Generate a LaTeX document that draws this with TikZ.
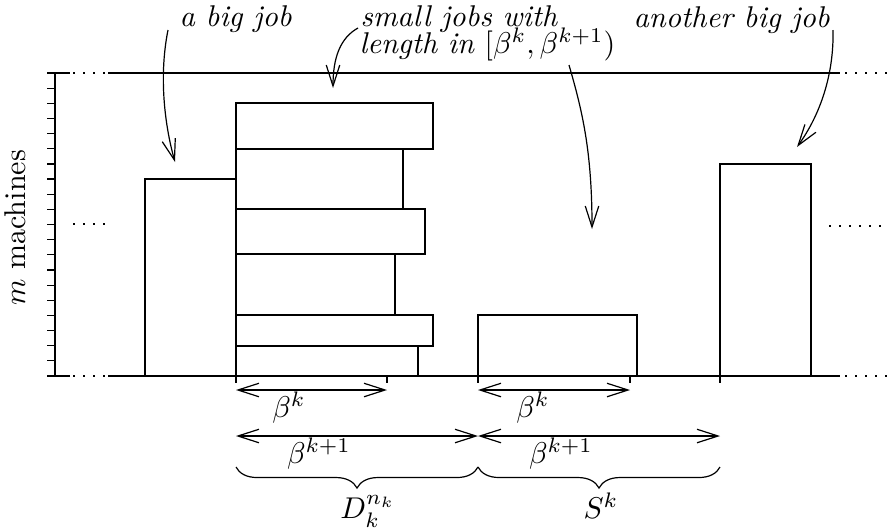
\documentclass[tikz,border=0pt]{standalone}
\usetikzlibrary{arrows.meta,decorations.pathreplacing}
\begin{document}
\begin{tikzpicture}[x=0.333pt,y=-0.333pt,
  >={Straight Barb[length=7pt,width=4.5pt]},
  dotseg/.style={dash pattern=on 0.5pt off 2.83pt},
  lbl/.style={inner sep=0pt,font=\itshape},
  mlbl/.style={inner sep=0pt,anchor=base},
  bracemark/.style={decorate,decoration={brace,mirror,amplitude=7pt}}]
\useasboundingbox (0,0) rectangle (888,531);

% horizontal lines
\draw (47,73) -- (70,73);
\draw[dotseg] (73,73) -- (106,73);
\draw (108,73) -- (840,73);
\draw[dotseg] (845,73) -- (888,73);
\draw (47,376) -- (70,376);
\draw[dotseg] (73,376) -- (106,376);
\draw (108,376) -- (840,376);
\draw[dotseg] (845,376) -- (888,376);
\draw[dotseg] (73,224) -- (106,224);
\draw[dotseg] (829,226) -- (882,226);

% axis with ticks
\draw (55,73) -- (55,376);
\foreach \i in {0,...,20} \draw (47,{73+15.15*\i}) -- (55,{73+15.15*\i});

% jobs
\draw (145,179) rectangle (236,376);
\draw (236,103) rectangle (433,149);
\draw (236,149) rectangle (403,209);
\draw (236,209) rectangle (425,254);
\draw (236,254) rectangle (395,315);
\draw (236,315) rectangle (433,346);
\draw (236,346) rectangle (418,376);
\draw (478,315) rectangle (637,376);
\draw (720,164) rectangle (811,376);

% ticks below axis
\foreach \x in {236,387,478,630,720} \draw (\x,376) -- (\x,383);

% measurement arrows
\coordinate (a0) at (236,390); \coordinate (a1) at (387,390);
\coordinate (b0) at (478,390); \coordinate (b1) at (630,390);
\coordinate (c0) at (236,436); \coordinate (c1) at (478,436); \coordinate (c2) at (720,436);
\draw[<->] (a0) -- (a1);
\draw[<->] (b0) -- (b1);
\draw[<->] (c0) -- (c1);
\draw[<->] (c1) -- (c2);
\node[mlbl] (bk1) at (289,417) {$\beta^k$};
\node[mlbl] (bk2) at (533,417) {$\beta^k$};
\node[mlbl] (bkk1) at (319,463) {$\beta^{k+1}$};
\node[mlbl] (bkk2) at (561,463) {$\beta^{k+1}$};

% braces
\coordinate (d0) at (236,467); \coordinate (d1) at (478,467); \coordinate (d2) at (720,467);
\draw[bracemark] (d0) -- (d1);
\draw[bracemark] (d1) -- (d2);
\node[mlbl] (Dk) at (368,518) {$D_k^{n_k}$};
\node[mlbl] (Sk) at (601,518) {$S^k$};

% axis label
\node[rotate=90,anchor=base,inner sep=0pt] (mm) at (25,228) {$m$ machines};

% annotations
\node[lbl,anchor=base west] (bigA) at (179,26) {a big job};
\node[lbl,anchor=base west] (smallA) at (360,26) {small jobs with};
\node[lbl,anchor=base west] (smallB) at (359,53) {length in $[\beta^k,\beta^{k+1})$};
\node[lbl,anchor=base west] (bigB) at (633,27) {another big job};

\coordinate (s1) at (168,30); \coordinate (e1) at (175,162);
\coordinate (s2) at (358,28); \coordinate (e2) at (333,88);
\coordinate (s3) at (569,65); \coordinate (e3) at (592,229);
\coordinate (s4) at (833,30); \coordinate (e4) at (797,147);
\draw[->] (s1) .. controls (158,80) and (166,130) .. (e1);
\draw[->] (s2) .. controls (340,38) and (333,58) .. (e2);
\draw[->] (s3) .. controls (582,110) and (592,150) .. (e3);
\draw[->] (s4) .. controls (834,75) and (820,115) .. (e4);
\end{tikzpicture}
\end{document}
